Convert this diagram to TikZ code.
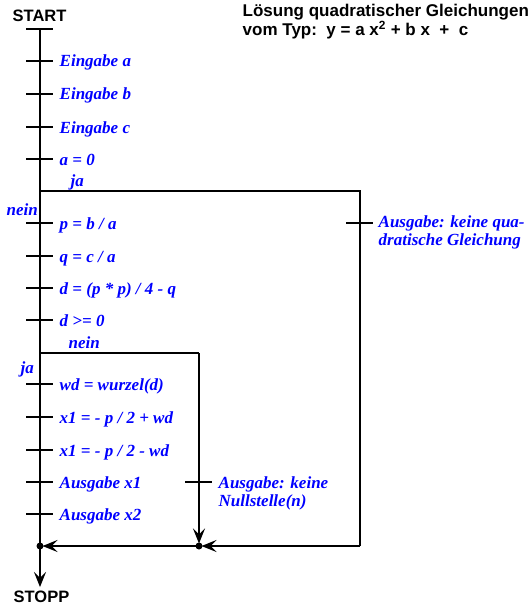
\documentclass[tikz,border=0pt]{standalone}
\usepackage{fontspec}
\setmainfont{Liberation Serif}
\newfontfamily\headfont{Liberation Sans}
\usetikzlibrary{arrows.meta}

\begin{document}
\begin{tikzpicture}[x=1pt, y=-1pt, line width=1.4pt,
  lab/.style={anchor=base west, inner sep=0pt, text=blue,
    font=\bfseries\itshape\fontsize{17}{17.5}\selectfont, align=left},
  head/.style={anchor=base west, inner sep=0pt,
    font=\headfont\bfseries\fontsize{16.5}{14}\selectfont, align=left},
  tickmark/.style={line width=1.4pt},
  flow/.style={-{Stealth[length=15pt, width=12pt, inset=6pt]}},
]
  \useasboundingbox (0,0) rectangle (532,607);
  \coordinate (top) at (40,29);
  \coordinate (J1) at (40,546);
  \coordinate (J2) at (199,546);
  \coordinate (end) at (40,587);
  \coordinate (ja1) at (40,191);
  \coordinate (ja1r) at (360,191);
  \coordinate (ja1d) at (360,546);
  \coordinate (nein2) at (40,353);
  \coordinate (nein2r) at (199,353);
  % Kopf
  \node[head] (start) at (12,22) {START};
  \node[head, font=\headfont\bfseries\fontsize{17}{14}\selectfont] (titel) at (242,36)
    {Lösung quadratischer Gleichungen\\vom Typ:\ \ y = a x\textsuperscript{2} + b x \ + \ c};
  % Hauptstrang
  \draw (top) -- (J1);
  \draw[flow] (J1) -- (end);
  \node[head] (stopp) at (13,602) {STOPP};
  \draw ([xshift=-14pt]top) -- ([xshift=13pt]top);
  % Schritte
  \foreach \y/\name/\txt in {61/ea/Eingabe a, 94/eb/Eingabe b, 127/ec/Eingabe c,
      159/aq/a = 0, 223/pp/{p = b / a}, 256/qq/{q = c / a},
      288/dd/{d = (p * p) / 4 - q}, 320/dg/d >= 0, 384/wd/wd = wurzel(d),
      417/xa/{x1 = - p / 2 + wd}, 450/xb/{x1 = - p / 2 - wd},
      482/oa/Ausgabe x1, 514/ob/Ausgabe x2} {
    \coordinate (t\name) at (40,\y);
    \draw[tickmark] ([xshift=-14pt]t\name) -- ([xshift=13pt]t\name);
    \node[lab] (\name) at (59,\y+6) {\txt};
  }
  % Verzweigung a = 0
  \draw (ja1) -- (ja1r) -- (ja1d);
  \node[lab] (ja1l) at (70,186) {ja};
  \node[lab] (nein1l) at (6,215) {nein};
  \coordinate (tk1) at (360,223);
  \draw[tickmark] ([xshift=-14pt]tk1) -- ([xshift=13pt]tk1);
  \node[lab] (keinq) at (378,245) {Ausgabe: keine qua-\\dratische Gleichung};
  % Verzweigung d >= 0
  \draw (nein2) -- (nein2r);
  \node[lab] (nein2l) at (68,348) {nein};
  \node[lab] (ja2l) at (20,373) {ja};
  \coordinate (tk2) at (199,482);
  \draw[tickmark] ([xshift=-14pt]tk2) -- ([xshift=13pt]tk2);
  \node[lab] (keinn) at (218,506) {Ausgabe: keine\\Nullstelle(n)};
  % Zusammenfuehrung
  \draw[flow, shorten >=2.5pt] (nein2r) -- (J2);
  \draw[flow, shorten >=2.5pt] (ja1d) -- (J2);
  \draw[flow, shorten >=2.5pt] (J2) -- (J1);
  \foreach \pt in {J1,J2} \fill (\pt) circle (3.5pt);
\end{tikzpicture}
\end{document}
